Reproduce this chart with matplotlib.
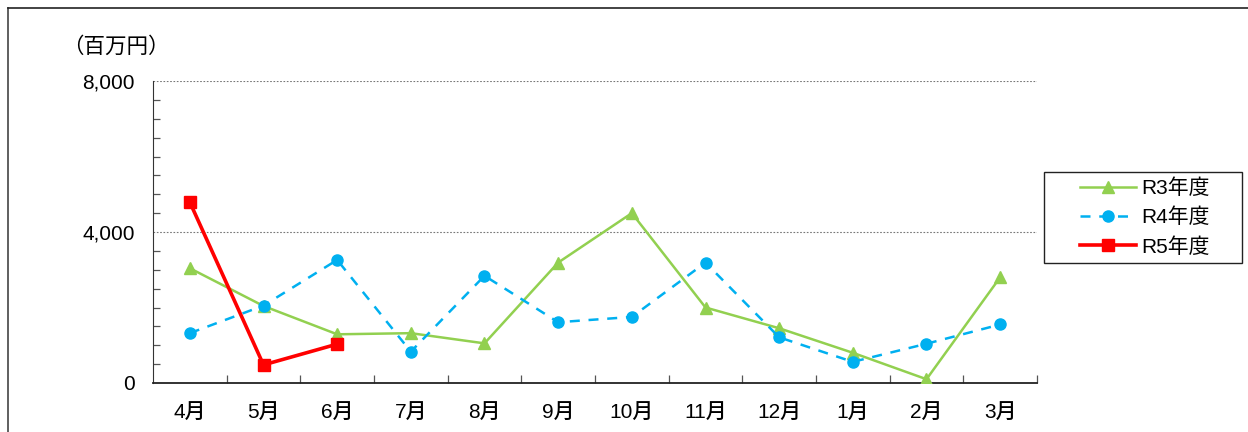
import matplotlib
matplotlib.use("Agg")
import matplotlib.pyplot as plt
from matplotlib.lines import Line2D
from matplotlib.patches import Rectangle
from matplotlib.ticker import MultipleLocator, FixedLocator, FuncFormatter

plt.rcParams['font.family'] = ['Liberation Sans', 'Noto Sans CJK JP', 'DejaVu Sans']

months = ['4月', '5月', '6月', '7月', '8月', '9月', '10月', '11月', '12月', '1月', '2月', '3月']
r3 = [3040, 2040, 1290, 1320, 1050, 3190, 4500, 2000, 1450, 800, 100, 2800]
r4 = [1320, 2050, 3260, 830, 2840, 1610, 1750, 3190, 1210, 560, 1040, 1550]
r5 = [4790, 480, 1030]
series_names = ['R3年度', 'R4年度', 'R5年度']
yticks = [0, 4000, 8000]
y_unit = '（百万円）'

W, H = 1248, 432
fig = plt.figure(figsize=(W/100, H/100), dpi=100)
ax = fig.add_axes([153/W, 1 - 383/H, (1037-153)/W, (383-81)/H])

x = list(range(len(months)))
ax.plot(x, r3, color='#92D050', lw=1.8, marker='^', ms=8, label=series_names[0], zorder=3)
ax.plot(x, r4, color='#00B0F0', lw=1.8, ls=(0, (4, 3.5)), marker='o', ms=8, label=series_names[1], zorder=3)
ax.plot(x[:len(r5)], r5, color='#FF0000', lw=2.6, marker='s', ms=8, label=series_names[2], zorder=4)

ax.set_xlim(-0.5, len(months) - 0.5)
ax.set_ylim(0, 8000)
ax.set_xticks(x)
ax.set_xticklabels(months, fontsize=15, fontweight='medium')
ax.xaxis.set_minor_locator(FixedLocator([i + 0.5 for i in range(len(months))]))
ax.tick_params(axis='x', which='major', length=0, pad=15)
ax.tick_params(axis='x', which='minor', direction='in', length=6, width=0.9, color='#555555')

ax.set_yticks(yticks)
ax.yaxis.set_major_formatter(FuncFormatter(lambda v, p: f'{int(v):,}'))
ax.yaxis.set_minor_locator(MultipleLocator(500))
ax.tick_params(axis='y', which='major', length=0, pad=13, labelsize=15)
ax.tick_params(axis='y', which='minor', direction='in', length=5, width=0.9, color='#555555')

ax.grid(axis='y', which='major', ls=(0, (1.5, 1.5)), color='#777777', lw=0.8)
for s in ['top', 'right']:
    ax.spines[s].set_visible(False)
ax.spines['left'].set_color('#333333')
ax.spines['bottom'].set_color('#222222')
ax.spines['bottom'].set_linewidth(1.3)

fig.text(62/W, 1 - 47/H, y_unit, fontsize=15.5, va='center', ha='left')

leg = ax.legend(loc='center left', bbox_to_anchor=(1080/W, 1 - 217.5/H), bbox_transform=fig.transFigure,
                fontsize=15, frameon=False, handlelength=2.7,
                borderpad=0, labelspacing=0.47, handletextpad=0.25, borderaxespad=0)
fig.add_artist(Rectangle((1044/W, 1 - 263/H), (1242-1044)/W, (263-172)/H, transform=fig.transFigure,
                         fill=False, edgecolor='#222222', lw=1.0))

# outer chart border
fig.add_artist(Line2D([7.5/W, 7.5/W], [0, 1 - 8/H], color='#444444', lw=1.2, transform=fig.transFigure))
fig.add_artist(Line2D([7.5/W, 1], [1 - 8/H, 1 - 8/H], color='#222222', lw=1.2, transform=fig.transFigure))

fig.savefig('out.png', dpi=100)
